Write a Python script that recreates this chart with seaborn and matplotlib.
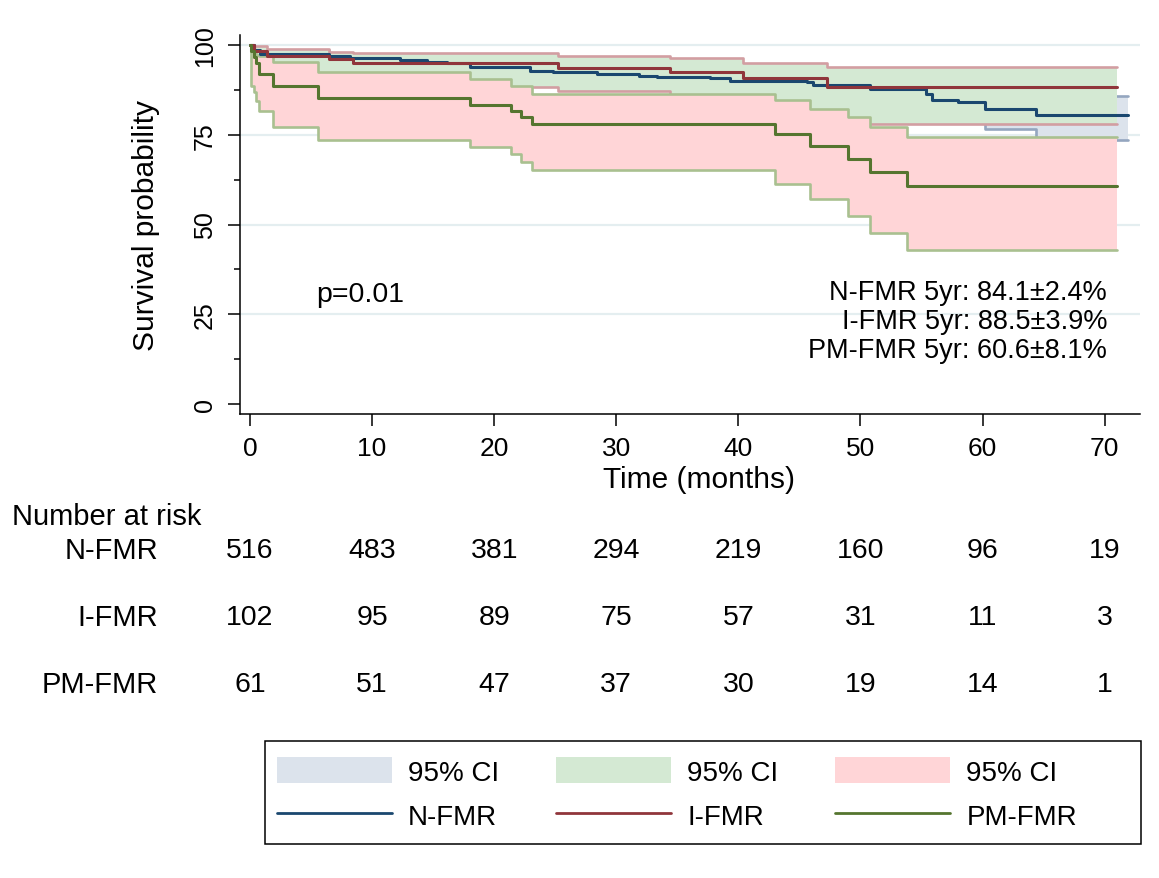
import matplotlib
matplotlib.use("Agg")
import matplotlib.pyplot as plt
import matplotlib.transforms as mtransforms
from matplotlib.patches import Patch, Rectangle
from matplotlib.lines import Line2D
import pandas as pd
import seaborn as sns

# Kaplan-Meier estimates (percent)
n_time = [0, 0.3, 0.8, 6.5, 8.2, 12.3, 14.5, 16.1, 18.0, 22.9, 24.8, 28.4, 31.9,
          33.3, 37.7, 39.3, 45.6, 46.1, 50.8, 55.4, 55.9, 58.0, 60.2, 64.4, 71.9]
n_surv = [100, 98.5, 97.5, 97.0, 96.4, 95.9, 95.4, 94.9, 94.0, 92.9, 92.4, 91.9, 91.5,
          91.0, 90.7, 90.1, 89.6, 88.9, 87.7, 86.4, 84.8, 84.0, 82.2, 80.5, 80.5]
n_lo = [100, 97.3, 96.0, 95.4, 94.7, 94.1, 93.5, 92.9, 91.9, 90.6, 90.0, 89.4, 88.9,
        88.3, 87.9, 87.2, 86.6, 85.8, 84.4, 82.9, 80.9, 79.9, 76.6, 73.5, 73.5]
n_hi = [100, 99.3, 98.7, 97.9, 97.6, 97.3, 97.0, 96.6, 95.9, 95.1, 94.7, 94.3, 94.0,
        93.6, 93.3, 92.9, 92.5, 91.9, 90.9, 89.8, 88.5, 87.9, 87.0, 85.7, 85.7]

i_time = [0, 0.3, 1.4, 6.5, 8.4, 25.2, 34.4, 40.4, 47.3, 71.0]
i_surv = [100, 98.4, 97.0, 96.1, 95.1, 93.7, 92.4, 90.8, 88.4, 88.4]
i_lo = [100, 93.5, 91.3, 90.0, 88.4, 87.3, 85.5, 82.0, 78.0, 78.0]
i_hi = [100, 99.8, 98.8, 98.1, 97.9, 97.0, 96.3, 95.1, 94.0, 94.0]

pm_time = [0, 0.05, 0.3, 0.5, 0.7, 1.9, 5.6, 18.0, 21.4, 22.2, 23.1, 43.0, 45.9,
           49.0, 50.8, 53.8, 71.0]
pm_surv = [100, 98.4, 96.7, 95.1, 91.8, 88.5, 85.2, 83.3, 81.5, 79.9, 78.0, 75.2, 71.8,
           68.2, 64.5, 60.6, 60.6]
pm_lo = [100, 88.7, 86.9, 84.4, 81.5, 77.3, 73.6, 71.5, 69.6, 67.3, 65.2, 61.3, 57.1,
         52.3, 47.5, 43.0, 43.0]
pm_hi = [100, 99.8, 97.8, 97.3, 97.0, 95.3, 92.4, 90.6, 88.7, 88.7, 86.5, 84.7, 82.2,
         79.9, 77.1, 74.3, 74.3]

groups = ["N-FMR", "I-FMR", "PM-FMR"]
risk_times = [0, 10, 20, 30, 40, 50, 60, 70]
risk_n = [516, 483, 381, 294, 219, 160, 96, 19]
risk_i = [102, 95, 89, 75, 57, 31, 11, 3]
risk_pm = [61, 51, 47, 37, 30, 19, 14, 1]
five_year = ["N-FMR 5yr: 84.1\u00b12.4%", "I-FMR 5yr: 88.5\u00b13.9%",
             "PM-FMR 5yr: 60.6\u00b18.1%"]
p_text = "p=0.01"

line_col = {"N-FMR": "#1a476f", "I-FMR": "#90353b", "PM-FMR": "#55752f"}
fill_col = {"N-FMR": "#dce3ec", "I-FMR": "#d4e9d3", "PM-FMR": "#ffd5d7"}
edge_col = {"N-FMR": "#94a6bf", "I-FMR": "#d29ea2", "PM-FMR": "#a9c090"}

df = pd.concat([
    pd.DataFrame({"group": "N-FMR", "time": n_time, "surv": n_surv, "lo": n_lo, "hi": n_hi}),
    pd.DataFrame({"group": "I-FMR", "time": i_time, "surv": i_surv, "lo": i_lo, "hi": i_hi}),
    pd.DataFrame({"group": "PM-FMR", "time": pm_time, "surv": pm_surv, "lo": pm_lo, "hi": pm_hi}),
], ignore_index=True)

sns.set_theme(style="ticks")
plt.rcParams["font.family"] = ["Liberation Sans", "DejaVu Sans"]
plt.rcParams["text.color"] = "black"

W, H = 1159, 879
fig = plt.figure(figsize=(W / 100, H / 100), dpi=100)
ax = fig.add_axes([240 / W, 1 - 415 / H, 900 / W, 379 / H])

for yv in [25, 50, 75, 100]:
    ax.axhline(yv, color="#e4eef0", lw=1.6, zorder=1)

# confidence bands, stacked like the original (N under I under PM)
for k, g in enumerate(groups):
    d = df[df["group"] == g]
    ax.fill_between(d["time"], d["lo"], d["hi"], step="post", color=fill_col[g],
                    lw=0, zorder=2 + k)
    for col in ["lo", "hi"]:
        sns.lineplot(data=d, x="time", y=col, color=edge_col[g], lw=1.9,
                     drawstyle="steps-post", estimator=None, ax=ax, zorder=2.5 + k)

sns.lineplot(data=df, x="time", y="surv", hue="group", hue_order=groups,
             palette=line_col, drawstyle="steps-post", estimator=None, lw=2.2,
             legend=False, ax=ax, zorder=6)

ax.set_xlim(-0.82, 72.9)
ax.set_ylim(-2.8, 102.8)
ax.set_xticks(risk_times)
ax.set_yticks([0, 25, 50, 75, 100])
ax.set_yticks([12.5, 37.5, 62.5, 87.5], minor=True)
ax.tick_params(axis="x", which="major", length=8.5, width=1.1, pad=7,
               labelsize=19, color="black", labelcolor="black")
ax.tick_params(axis="y", which="major", length=8.5, width=1.1, pad=8,
               labelsize=18, labelrotation=90, color="black", labelcolor="black")
ax.tick_params(axis="y", which="minor", length=4.5, width=1.1, color="black", left=True)
for lab in ax.get_yticklabels():
    lab.set_va("center")
sns.despine(ax=ax)
for sp in ["left", "bottom"]:
    ax.spines[sp].set_color("black")
    ax.spines[sp].set_linewidth(1.1)

ax.set_xlabel("Time (months)", fontsize=21.5, color="black")
ax.xaxis.set_label_coords(0.51, -0.135)
ax.set_ylabel("Survival probability", fontsize=21.5, color="black")
ax.yaxis.set_label_coords(-0.089, 0.5)

ax.text(5.4, 30.6, p_text, fontsize=20.5, ha="left", va="center")
for txt, yv in zip(five_year, [31.2, 23.1, 15.0]):
    ax.text(70.2, yv, txt, fontsize=19.5, ha="right", va="center")

# number at risk table
trans = mtransforms.blended_transform_factory(ax.transData, fig.transFigure)
fig.text(12 / W, 1 - 517 / H, "Number at risk", fontsize=21, ha="left", va="center")
for g, counts, ypx in zip(groups, [risk_n, risk_i, risk_pm], [551, 618, 685]):
    fig.text(158 / W, 1 - ypx / H, g, fontsize=21, ha="right", va="center")
    for t, c in zip(risk_times, counts):
        ax.text(t, 1 - ypx / H, str(c), transform=trans, fontsize=20.5,
                ha="center", va="center", clip_on=False)

# legend
handles, labels = [], []
for g in groups:
    handles.append(Patch(facecolor=fill_col[g], edgecolor="none"))
    labels.append("95% CI")
    handles.append(Line2D([], [], color=line_col[g], lw=2.0))
    labels.append(g)
fig.legend(handles, labels, ncol=3, loc="upper left",
           bbox_to_anchor=(277 / W, 1 - 758 / H), frameon=False, fontsize=20,
           handlelength=4.14, handleheight=1.08, handletextpad=0.58,
           columnspacing=2.05, labelspacing=0.58, borderpad=0, borderaxespad=0)
fig.add_artist(Rectangle((265 / W, 1 - 845 / H), 876 / W, 103 / H,
                         transform=fig.transFigure, fill=False, ec="black", lw=1.1))

fig.savefig("out.png", dpi=100)
